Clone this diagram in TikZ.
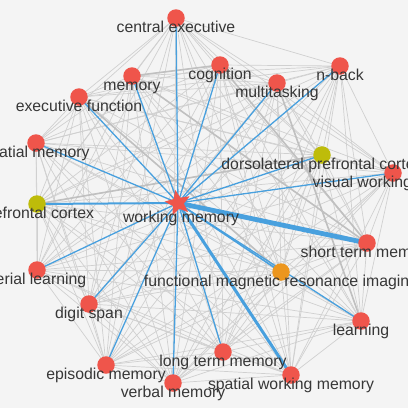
\documentclass[tikz,border=0pt]{standalone}
\usepackage{fontspec}
\setmainfont{Liberation Sans}
\usetikzlibrary{shapes.geometric}
\definecolor{bgc}{RGB}{244,244,244}
\definecolor{nred}{RGB}{239,85,75}
\definecolor{nolive}{RGB}{190,188,10}
\definecolor{norange}{RGB}{236,150,30}
\definecolor{eblue}{RGB}{72,160,222}
\definecolor{egrey}{RGB}{208,208,208}
\definecolor{egreyd}{RGB}{192,192,192}
\definecolor{txt}{RGB}{55,55,55}
\pgfdeclarelayer{back}
\pgfsetlayers{back,main}
\begin{document}
\begin{tikzpicture}[x=1pt,y=-1pt,
  dot/.style={circle,minimum size=17.5pt,inner sep=0pt,fill=nred},
  lbl/.style={font=\fontsize{15.8}{17}\selectfont,text=txt,anchor=base,inner sep=0pt},
  ge/.style={draw=egrey,line width=0.7pt},
  gt/.style={draw=egreyd,line width=1.6pt},
  be/.style={draw=eblue,line width=1.3pt}]
\useasboundingbox (0,0) rectangle (408,408);
\begin{pgfonlayer}{back}
\fill[bgc] (0,0) rectangle (408,408);
\end{pgfonlayer}
\clip (0,0) rectangle (408,408);
% nodes
\node[dot] (ce) at (176,18) {};
\node[dot] (cog) at (220,65) {};
\node[dot] (mem) at (132,76) {};
\node[dot] (mt) at (277,83) {};
\node[dot] (nb) at (340,66) {};
\node[dot] (ef) at (79,97) {};
\node[dot] (sm) at (36,143) {};
\node[dot,fill=nolive] (dl) at (322,155) {};
\node[dot] (vw) at (393,173) {};
\node[dot,fill=nolive] (pfc) at (37,204) {};
\node[dot] (stm) at (367,243) {};
\node[dot] (sl) at (37,270) {};
\node[dot,fill=norange] (fmri) at (281,272) {};
\node[dot] (ds) at (89,304) {};
\node[dot] (lr) at (361,321) {};
\node[dot] (ep) at (106,365) {};
\node[dot] (ltm) at (223,352) {};
\node[dot] (vm) at (173,383) {};
\node[dot] (swm) at (291,375) {};
\node[star,star points=5,star point ratio=2.3,minimum size=27pt,inner sep=0pt,fill=nred,rotate=12] (wm) at (178,203) {};
% edges
\begin{pgfonlayer}{back}
\foreach \a [count=\i] in {ce,cog,mem,mt,nb,ef,sm,dl,vw,pfc,stm,sl,fmri,ds,lr,ep,ltm,vm,swm}{
  \foreach \b [count=\j] in {ce,cog,mem,mt,nb,ef,sm,dl,vw,pfc,stm,sl,fmri,ds,lr,ep,ltm,vm,swm}{
    \ifnum\j>\i \draw[ge] (\a.center) -- (\b.center); \fi
  }
}
\foreach \a/\b in {mem/cog,pfc/dl,mem/stm,cog/stm,ef/fmri,mt/lr}{
  \draw[gt] (\a.center) -- (\b.center);
}
\foreach \b in {ce,cog,mem,mt,nb,ef,sm,dl,vw,sl,ds,lr,ep,ltm,vm}{
  \draw[be] (wm.center) -- (\b.center);
}
\draw[be,line width=2pt] (wm.center) -- (pfc.center);
\draw[be,line width=1.6pt] (wm.center) -- (fmri.center);
\draw[be,line width=3pt] (wm.center) -- (swm.center);
\draw[be,line width=4.8pt] (wm.center) -- (stm.center);
\end{pgfonlayer}
% labels
\node[lbl] (lce) at (176,32) {central executive};
\node[lbl] (lcog) at (220,79.5) {cognition};
\node[lbl] (lmem) at (132,90.5) {memory};
\node[lbl] (lmt) at (277,97.5) {multitasking};
\node[lbl] (lnb) at (340,80.5) {n-back};
\node[lbl] (lef) at (79,111.5) {executive function};
\node[lbl] (lsm) at (36,157.5) {spatial memory};
\node[lbl] (ldl) at (322,169.5) {dorsolateral prefrontal cortex};
\node[lbl] (lvw) at (393,187.5) {visual working memory};
\node[lbl] (lpfc) at (37,218.5) {prefrontal cortex};
\node[lbl] (lwm) at (181,222) {working memory};
\node[lbl] (lstm) at (367,257.5) {short term memory};
\node[lbl] (lsl) at (37,284.5) {serial learning};
\node[lbl] (lfmri) at (281,286.5) {functional magnetic resonance imaging};
\node[lbl] (lds) at (89,318.5) {digit span};
\node[lbl] (llr) at (361,335.5) {learning};
\node[lbl] (lep) at (106,379.5) {episodic memory};
\node[lbl] (lltm) at (223,366.5) {long term memory};
\node[lbl] (lvm) at (173,397.5) {verbal memory};
\node[lbl] (lswm) at (291,389.5) {spatial working memory};
\end{tikzpicture}
\end{document}
